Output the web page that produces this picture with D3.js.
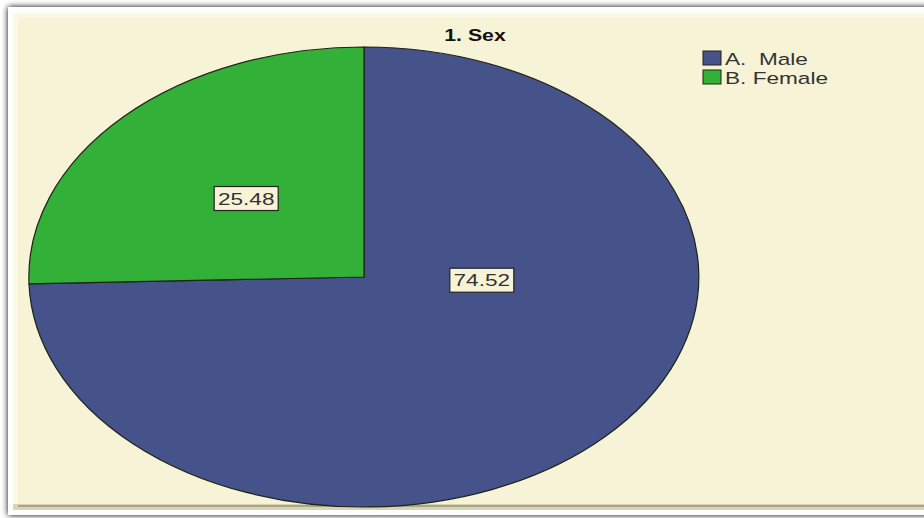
<!DOCTYPE html>
<html>
<head>
<meta charset="utf-8">
<script src="https://cdn.jsdelivr.net/npm/d3@7"></script>
<style>
  body { margin: 0; background: #ffffff; }
  svg { display: block; font-family: "Liberation Sans", Arial, sans-serif; }
</style>
</head>
<body>
<div id="chart"></div>
<script>
// data
var categories = ["A.  Male", "B. Female"];
var percents = [74.52, 25.48];
var colors = ["#46528a", "#33b038"];
var title = "1. Sex";

var width = 924, height = 518;
var cx = 364, cy = 277, rx = 335, ry = 230;
var stretch = 1.33; // the source image is stretched horizontally

var svg = d3.select("#chart").append("svg")
  .attr("width", width)
  .attr("height", height);

var defs = svg.append("defs");
var f = defs.append("filter").attr("id", "shadow")
  .attr("x", "-5%").attr("y", "-5%").attr("width", "110%").attr("height", "110%");
f.append("feGaussianBlur").attr("in", "SourceAlpha").attr("stdDeviation", 3);
f.append("feOffset").attr("dx", 0).attr("dy", 0).attr("result", "b");
var fm = f.append("feMerge");
fm.append("feMergeNode").attr("in", "b");
fm.append("feMergeNode").attr("in", "SourceGraphic");

// outer white frame with soft shadow
svg.append("rect")
  .attr("x", 8).attr("y", 7).attr("width", 930).attr("height", 508)
  .attr("fill", "#ffffff")
  .attr("filter", "url(#shadow)");

// beige panel with bevel
svg.append("rect")
  .attr("x", 13).attr("y", 13).attr("width", 920).attr("height", 497)
  .attr("fill", "#d9d5b4");
svg.append("rect")
  .attr("x", 13).attr("y", 13).attr("width", 915).attr("height", 491)
  .attr("fill", "#fbf8e4");
svg.append("rect")
  .attr("x", 18).attr("y", 17).attr("width", 910).attr("height", 487)
  .attr("fill", "#f7f3d6");
svg.append("line")
  .attr("x1", 18).attr("x2", 928).attr("y1", 506).attr("y2", 506)
  .attr("stroke", "#a8a48a").attr("stroke-width", 2);

// title
svg.append("text")
  .attr("transform", "translate(475,41) scale(" + stretch + ",1)")
  .attr("text-anchor", "middle")
  .attr("font-weight", "bold")
  .attr("font-size", 16)
  .attr("fill", "#111")
  .text(title);

// pie drawn on a unit circle then stretched into an ellipse
var pie = d3.pie().sort(null).value(function(d) { return d; });
var arcs = pie(percents);
var arc = d3.arc().innerRadius(0).outerRadius(1);

var g = svg.append("g")
  .attr("transform", "translate(" + cx + "," + cy + ") scale(" + rx + "," + ry + ")");

g.selectAll("path.slice")
  .data(arcs)
  .enter().append("path")
  .attr("class", "slice")
  .attr("d", arc)
  .attr("fill", function(d, i) { return colors[i]; })
  .attr("stroke", "#1e2418")
  .attr("stroke-width", 1.2)
  .attr("vector-effect", "non-scaling-stroke");

// label placement (fraction along the x and y direction of each slice's mid angle)
var labelFrac = [[0.49, 0.02], [0.49, 0.49]];

var lab = svg.selectAll("g.lab")
  .data(arcs)
  .enter().append("g")
  .attr("class", "lab")
  .attr("transform", function(d, i) {
    var a = (d.startAngle + d.endAngle) / 2;
    var x = cx + labelFrac[i][0] * rx * Math.sin(a);
    var y = cy - labelFrac[i][1] * ry * Math.cos(a);
    return "translate(" + x + "," + y + ")";
  });

lab.append("rect")
  .attr("x", -32).attr("y", -12).attr("width", 64).attr("height", 24)
  .attr("fill", "#f7f3d6")
  .attr("stroke", "#222")
  .attr("stroke-width", 1.2);

lab.append("text")
  .attr("transform", "scale(" + stretch + ",1)")
  .attr("text-anchor", "middle")
  .attr("dy", "0.36em")
  .attr("font-size", 17)
  .attr("fill", "#333")
  .text(function(d) { return d3.format(".2f")(d.data); });

// legend
var leg = svg.selectAll("g.leg")
  .data(categories)
  .enter().append("g")
  .attr("class", "leg")
  .attr("transform", function(d, i) { return "translate(703," + (51 + i * 19) + ")"; });

leg.append("rect")
  .attr("width", 18).attr("height", 14)
  .attr("fill", function(d, i) { return colors[i]; })
  .attr("stroke", "#1e2418")
  .attr("stroke-width", 1);

leg.append("text")
  .attr("transform", "translate(22,14) scale(" + stretch + ",1)")
  .attr("font-size", 17)
  .attr("fill", "#333")
  .attr("xml:space", "preserve")
  .style("white-space", "pre")
  .text(function(d) { return d; });
</script>
</body>
</html>
